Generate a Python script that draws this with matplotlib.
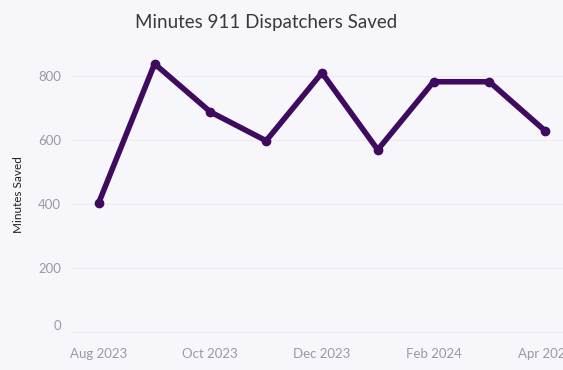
import matplotlib
matplotlib.use("Agg")
import matplotlib.pyplot as plt

# monthly minutes saved
months = ["Aug 2023", "Sep 2023", "Oct 2023", "Nov 2023", "Dec 2023",
          "Jan 2024", "Feb 2024", "Mar 2024", "Apr 2024"]
minutes_saved = [404, 837, 687, 597, 809, 569, 781, 781, 628]
y_ticks = [0, 200, 400, 600, 800]

plt.rcParams['font.family'] = ['Lato', 'DejaVu Sans']

bg = '#f6f6fb'
line_col = '#3f0b5e'

fig = plt.figure(figsize=(5.63, 3.70), dpi=100, facecolor=bg)
ax = fig.add_axes([72 / 563, 30 / 370, 1 - 72 / 563, 290 / 370])
ax.set_facecolor(bg)

x = list(range(len(months)))
ax.plot(x, minutes_saved, color=line_col, linewidth=4, marker='o',
        markersize=6, solid_capstyle='round', solid_joinstyle='round', zorder=3)

ax.set_xlim(-0.48, 8.32)
ax.set_ylim(-24, 880)
ax.set_xticks(x[::2])
ax.set_xticklabels(months[::2])
ax.set_yticks(y_ticks)
ax.set_yticklabels([str(v) for v in y_ticks])
ax.tick_params(axis='both', length=0, colors='#9a9aa2', labelsize=9.5)
ax.tick_params(axis='y', pad=8)
ax.tick_params(axis='x', pad=6)
# lift the zero label off the bottom edge
ax.get_yticklabels()[0].set_va('bottom')
ax.grid(axis='y', color='#ececf2', linewidth=0.8)
for s in ax.spines.values():
    s.set_visible(False)

ax.set_ylabel('Minutes Saved', fontsize=8.5, color='#222222', labelpad=10)
fig.text(0.472, 0.94, 'Minutes 911 Dispatchers Saved', ha='center', va='center',
         fontsize=13.5, color='#3a3a3a')

fig.savefig('out.png', dpi=100, facecolor=bg)
